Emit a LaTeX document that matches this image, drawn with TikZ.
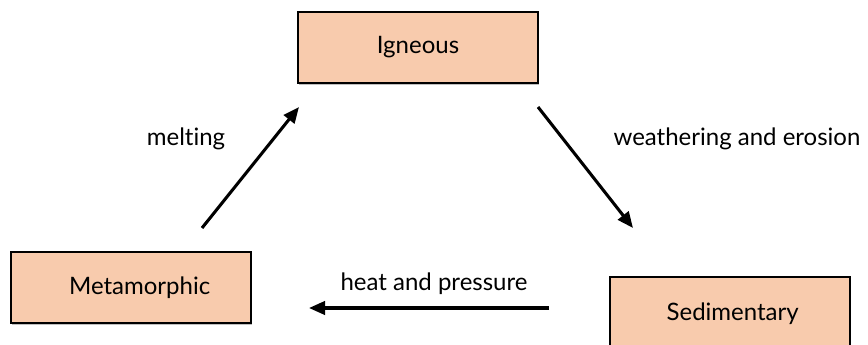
\documentclass[tikz,border=0pt]{standalone}
\usepackage{fontspec}
\setmainfont{Lato}[Ligatures=NoCommon]
\usetikzlibrary{arrows.meta}
\definecolor{rockfill}{HTML}{F8CBAD}
\tikzset{
  rockbox/.style={draw=black, line width=1.1pt, fill=rockfill,
    minimum width=180pt, minimum height=53pt, inner sep=0pt,
    font=\fontsize{18}{21}\selectfont},
  shadowbox/.style={fill=black!25, draw=none,
    minimum width=180pt, minimum height=53pt, inner sep=0pt},
  cycle/.style={line width=2.3pt, -{Triangle[length=12pt,width=10pt]}},
  steplabel/.style={font=\fontsize{18}{21}\selectfont, inner sep=0pt}
}
\begin{document}
\begin{tikzpicture}[x=0.75pt, y=-0.75pt]
  \useasboundingbox (0,0) rectangle (868,345);
  \clip (0,0) rectangle (868,345);

  % soft shadows behind the boxes
  \node[shadowbox] at (419,49.5) {};
  \node[shadowbox] at (132,289.5) {};
  \node[shadowbox] at (731,314) {};

  % the three rock types
  \node[rockbox] (igneous) at (418,47.5) {Igneous};
  \node[rockbox, label={[steplabel, xshift=6.5pt]center:Metamorphic}] (meta) at (131,287.5) {};
  \node[rockbox, label={[steplabel, xshift=2pt, yshift=-1pt]center:Sedimentary}] (sed) at (730,312.5) {};

  % arrow ends
  \coordinate (m1) at (202,228);
  \coordinate (m2) at (299,107);
  \coordinate (w1) at (538,107);
  \coordinate (w2) at (633,228);
  \coordinate (h1) at (549,308);
  \coordinate (h2) at (309,308);

  \draw[cycle] (m1) -- (m2);
  \draw[cycle] (w1) -- (w2);
  \draw[cycle] (h1) -- (h2);

  % process labels
  \node[steplabel] (lmelt) at (186,139) {melting};
  \node[steplabel] (lweather) at (737,139) {weathering and erosion};
  \node[steplabel] (lheat) at (434,284) {heat and pressure};
\end{tikzpicture}
\end{document}
